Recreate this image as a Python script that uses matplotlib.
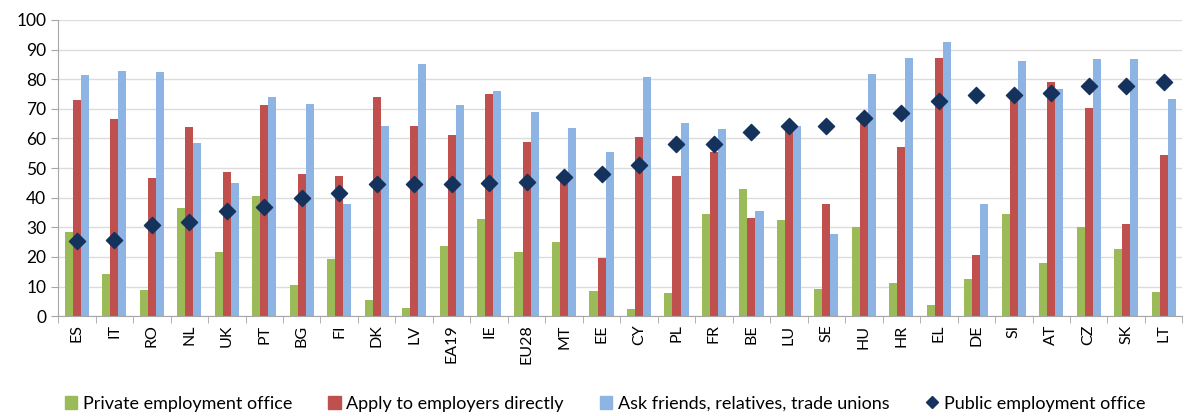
import numpy as np
import matplotlib
matplotlib.use('Agg')
from matplotlib import pyplot as plt
from matplotlib.lines import Line2D
from matplotlib.patches import Patch

plt.rcParams['font.family'] = ['Lato', 'DejaVu Sans']

countries = ['ES', 'IT', 'RO', 'NL', 'UK', 'PT', 'BG', 'FI', 'DK', 'LV', 'EA19', 'IE',
             'EU28', 'MT', 'EE', 'CY', 'PL', 'FR', 'BE', 'LU', 'SE', 'HU', 'HR', 'EL',
             'DE', 'SI', 'AT', 'CZ', 'SK', 'LT']

private_office = [28.5, 14.4, 8.8, 36.4, 21.5, 40.6, 10.5, 19.4, 5.3, 2.6, 23.6, 32.8,
                  21.7, 25.2, 8.5, 2.4, 7.7, 34.5, 43.1, 32.4, 9.3, 30.0, 11.3, 3.9,
                  12.5, 34.5, 17.8, 30.0, 22.7, 8.1]
apply_direct = [73.0, 66.6, 46.5, 64.0, 48.8, 71.2, 48.0, 47.4, 74.1, 64.3, 61.1, 75.1,
                58.7, 45.6, 19.5, 60.6, 47.3, 55.5, 33.2, 63.4, 38.0, 65.6, 57.2, 87.3,
                20.6, 74.1, 79.2, 70.2, 31.1, 54.3]
ask_friends = [81.4, 82.9, 82.5, 58.3, 45.0, 74.1, 71.5, 37.7, 64.3, 85.0, 71.2, 76.1,
               68.8, 63.4, 55.5, 80.9, 65.3, 63.1, 35.6, 64.3, 27.6, 81.8, 87.3, 92.6,
               38.0, 86.3, 76.6, 86.9, 86.9, 73.2]
public_office = [25.3, 25.7, 30.7, 31.8, 35.5, 36.7, 39.8, 41.7, 44.6, 44.6, 44.7, 45.0,
                 45.3, 47.0, 48.0, 51.0, 58.1, 58.0, 62.3, 64.3, 64.3, 66.8, 68.7, 72.7,
                 74.8, 74.8, 75.2, 77.8, 77.8, 79.0]

c_green = '#9BBB59'
c_red = '#C0504D'
c_blue = '#8EB4E3'
c_navy = '#14325C'

fig = plt.figure(figsize=(11.86, 4.16), dpi=100)
ax = fig.add_axes([0.049, 0.240, 0.948, 0.712])

x = np.arange(len(countries))
w = 0.215
ax.bar(x - w, private_office, w, color=c_green, zorder=2)
ax.bar(x, apply_direct, w, color=c_red, zorder=2)
ax.bar(x + w, ask_friends, w, color=c_blue, zorder=2)
ax.scatter(x, public_office, marker='D', s=68, color=c_navy, zorder=3)

ax.set_xlim(-0.5, len(countries) - 0.5)
ax.set_ylim(0, 100)
ax.set_yticks(np.arange(0, 101, 10))
ax.yaxis.grid(True, color='#DCDCDC', linewidth=1, zorder=0)
ax.set_axisbelow(True)

ax.set_xticks(x)
ax.set_xticklabels(countries, rotation=90, fontsize=11.5)
ax.set_xticks(np.arange(-0.5, len(countries), 1), minor=True)
ax.tick_params(axis='x', which='major', length=0, pad=6)
ax.tick_params(axis='x', which='minor', length=5, color='#A6A6A6')
ax.tick_params(axis='y', length=5, color='#A6A6A6', labelsize=12.5)

for s in ['top', 'right']:
    ax.spines[s].set_visible(False)
ax.spines['left'].set_color('#A6A6A6')
ax.spines['bottom'].set_color('#A6A6A6')

handles = [Patch(color=c_green, label='Private employment office'),
           Patch(color=c_red, label='Apply to employers directly'),
           Patch(color=c_blue, label='Ask friends, relatives, trade unions'),
           Line2D([], [], marker='D', color=c_navy, linestyle='none', markersize=6,
                  label='Public employment office')]
fig.legend(handles=handles, loc='center', bbox_to_anchor=(0.51, 0.03), ncol=4,
           frameon=False, fontsize=13, handlelength=0.7, handleheight=0.7,
           handletextpad=0.3, columnspacing=2.0)

fig.savefig('out.png', dpi=100)
